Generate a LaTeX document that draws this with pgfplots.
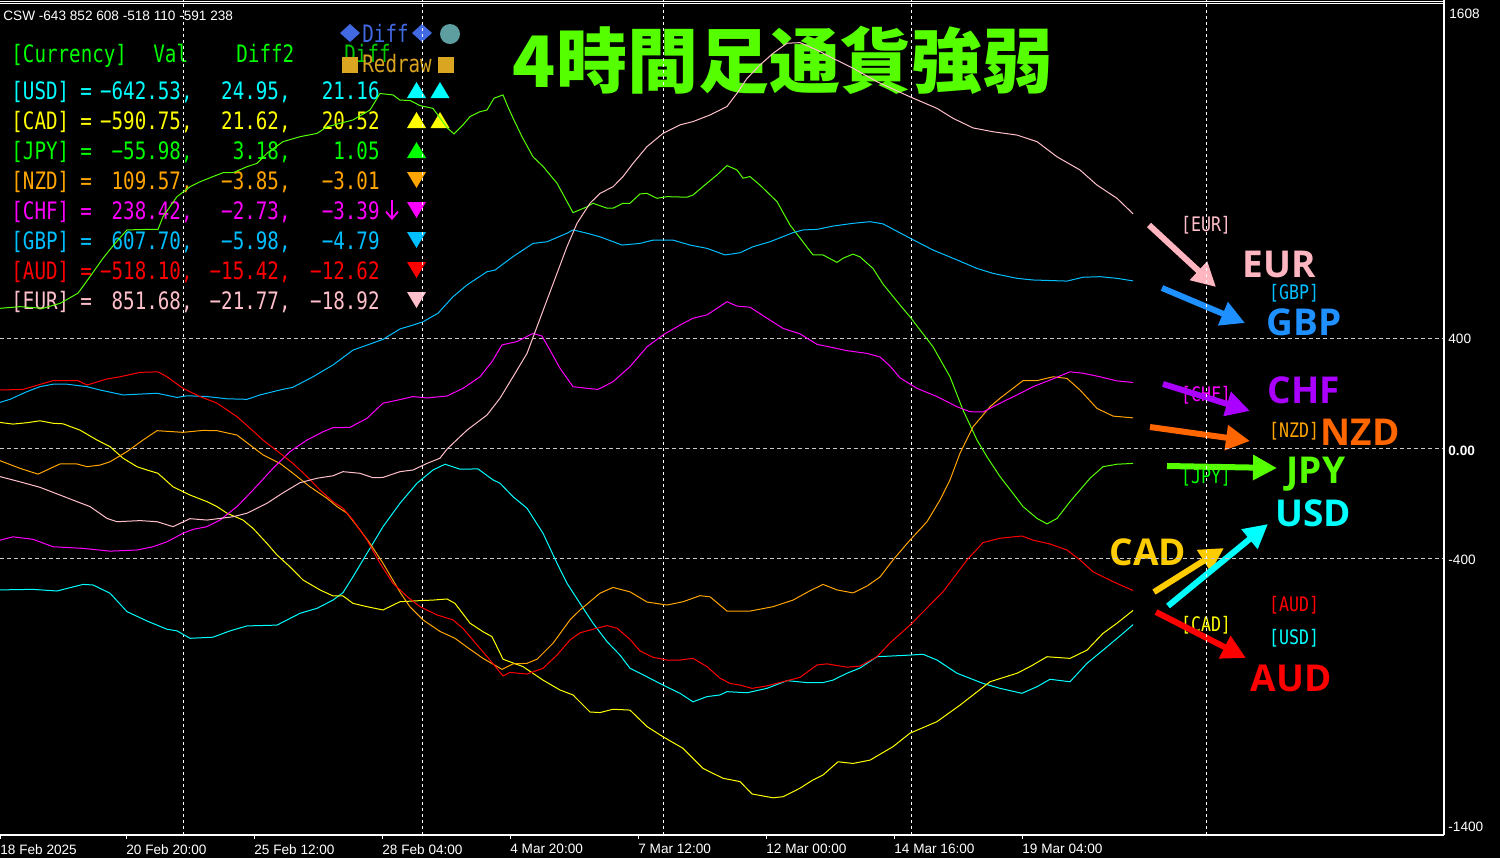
\documentclass[border=0pt]{standalone}
\usepackage{fontspec}
\usepackage{pgfplots}
\pgfplotsset{compat=1.18}
\usetikzlibrary{arrows.meta}
\setmainfont{Liberation Sans}
\newfontfamily\tah{Liberation Sans}
\newfontfamily\goth[FakeStretch=0.8]{DejaVu Sans Mono}
\newfontfamily\gothb[FakeStretch=0.83]{DejaVu Sans Mono}
\newfontfamily\bigf{Open Sans}
\newfontfamily\cjk{Noto Sans CJK JP}
\definecolor{cUSD}{RGB}{0,255,255}
\definecolor{cCAD}{RGB}{255,255,0}
\definecolor{cJPY}{RGB}{0,255,0}
\definecolor{cNZD}{RGB}{255,165,0}
\definecolor{cCHF}{RGB}{255,0,255}
\definecolor{cGBP}{RGB}{0,191,255}
\definecolor{cAUD}{RGB}{255,0,0}
\definecolor{cEUR}{RGB}{255,192,203}
\definecolor{bEUR}{RGB}{255,182,193}
\definecolor{bGBP}{RGB}{30,144,255}
\definecolor{bCHF}{RGB}{170,0,255}
\definecolor{bNZD}{RGB}{255,102,0}
\definecolor{bJPY}{RGB}{85,255,0}
\definecolor{bCAD}{RGB}{255,204,0}
\definecolor{royal}{RGB}{65,105,225}
\definecolor{cadet}{RGB}{95,158,160}
\definecolor{golden}{RGB}{218,165,32}
\definecolor{hgridc}{RGB}{200,200,200}
\newcommand{\tabfont}{\goth\fontsize{12}{13}\selectfont}
\newcommand{\row}[6]{%
  \node[anchor=base west,text=#1] at (11,#2) {#3};
  \node[anchor=base west,text=#1] at (80,#2) {=};
  \node[anchor=base east,text=#1] at (193,#2) {#4,};
  \node[anchor=base east,text=#1] at (291,#2) {#5,};
  \node[anchor=base east,text=#1] at (380,#2) {#6};}
\newcommand{\uptri}[3]{\fill[#1] (#2-9.5,#3+8)--(#2+9.5,#3+8)--(#2,#3-8)--cycle;}
\newcommand{\dntri}[3]{\fill[#1] (#2-9.5,#3-8)--(#2+9.5,#3-8)--(#2,#3+8)--cycle;}
\begin{document}
\begin{tikzpicture}
\path[use as bounding box, fill=black] (0pt,0pt) rectangle (750pt,-429pt);
\begin{scope}[x=0.5pt,y=-0.5pt]
  % top info
  \node[anchor=base west, inner sep=0pt, text=white, font=\tah\fontsize{6.8}{8}\selectfont] at (3,20) {CSW -643 852 608 -518 110 -591 238};
  % title
  \node[anchor=center, inner sep=0pt, text=bJPY, font=\cjk\bfseries\fontsize{35.5}{38}\selectfont] at (783,60) {4時間足通貨強弱};
  % table
  \begin{scope}[every node/.style={inner sep=0pt, font=\tabfont}]
    \node[anchor=base west,text=cJPY] at (11,62) {[Currency]};
    \node[anchor=base west,text=cJPY] at (153,62) {Val};
    \node[anchor=base west,text=cJPY] at (236,62) {Diff2};
    \node[anchor=base west,text=cJPY!80!black] at (344,62) {Diff};
    \fill[royal] (340,33)--(350,24)--(360,33)--(350,42)--cycle;
    \fill[royal] (412,33)--(422,24)--(432,33)--(422,42)--cycle;
    \node[anchor=base west,text=royal] at (362,42) {Diff};
    \fill[cadet] (450,34) circle (10);
    \fill[golden] (342,57) rectangle (358,73);
    \fill[golden] (438,57) rectangle (454,73);
    \node[anchor=base west,text=golden] at (362,72) {Redraw};
    \row{cUSD}{99}{[USD]}{−642.53}{24.95}{21.16}
    \row{cCAD}{129}{[CAD]}{−590.75}{21.62}{20.52}
    \row{cJPY}{159}{[JPY]}{−55.98}{3.18}{1.05}
    \row{cNZD}{189}{[NZD]}{109.57}{−3.85}{−3.01}
    \row{cCHF}{219}{[CHF]}{238.42}{−2.73}{−3.39}
    \row{cGBP}{249}{[GBP]}{607.70}{−5.98}{−4.79}
    \row{cAUD}{279}{[AUD]}{−518.10}{−15.42}{−12.62}
    \row{cEUR}{309}{[EUR]}{851.68}{−21.77}{−18.92}
  \end{scope}
  \draw[cCHF, line width=0.9pt, -{Straight Barb[length=3.5pt,width=6pt]}] (392,200) -- (392,220);
  \uptri{cUSD}{416.5}{90}\uptri{cUSD}{440}{90}
  \uptri{cCAD}{416.5}{120}\uptri{cCAD}{440}{120}
  \uptri{cJPY}{416.5}{150}
  \dntri{cNZD}{416.5}{180}
  \dntri{cCHF}{416.5}{210}
  \dntri{cGBP}{416.5}{240}
  \dntri{cAUD}{416.5}{270}
  \dntri{cEUR}{416.5}{300}
  % right side small labels
  \begin{scope}[every node/.style={inner sep=0pt, font=\gothb\fontsize{10}{11}\selectfont, anchor=center}]
    \node[text=cEUR] at (1206,225) {[EUR]};
    \node[text=cGBP] at (1294,293) {[GBP]};
    \node[text=cCHF] at (1206,395) {[CHF]};
    \node[text=cNZD] at (1294,431) {[NZD]};
    \node[text=cJPY] at (1206,477) {[JPY]};
    \node[text=cAUD] at (1294,605) {[AUD]};
    \node[text=cCAD] at (1206,625) {[CAD]};
    \node[text=cUSD] at (1294,638) {[USD]};
  \end{scope}
  % arrows
  \begin{scope}[line width=3pt, -{Triangle[length=12pt,width=12pt]}]
    \draw[bEUR] (1149,225) -- (1216,287);
    \draw[bGBP] (1162,288) -- (1245,323);
    \draw[bCHF] (1163,384) -- (1250,411);
    \draw[bNZD] (1150,427) -- (1250,441);
    \draw[bJPY] (1167,466) -- (1277,468);
    \draw[bCAD] (1154,592) -- (1224,548);
    \draw[cUSD] (1168,606) -- (1268,524);
    \draw[cAUD] (1156,612) -- (1246,658);
  \end{scope}
  % big labels
  \begin{scope}[every node/.style={inner sep=0pt, anchor=base, font=\bigf\bfseries\fontsize{18.5}{20}\selectfont}]
    \node[text=bEUR] at (1279,277) {EUR};
    \node[text=bGBP] at (1304,335) {GBP};
    \node[text=bCHF] at (1304,403) {CHF};
    \node[text=bNZD] at (1360,445) {NZD};
    \node[text=bJPY] at (1316,483) {JPY};
    \node[text=cUSD] at (1313,526) {USD};
    \node[text=bCAD] at (1148,565) {CAD};
    \node[text=cAUD] at (1291,691) {AUD};
  \end{scope}
\end{scope}

\begin{axis}[
  at={(0pt,0pt)}, anchor=north west,
  scale only axis, width=722pt, height=417.5pt,
  xmin=0, xmax=1444, ymin=-1407.3, ymax=1629.1,
  axis line style={draw=none},
  ytick=\empty,
  xtick={0,126,254,382,510,638,766,894,1022},
  xticklabels={18 Feb 2025,20 Feb 20:00,25 Feb 12:00,28 Feb 04:00,4 Mar 20:00,7 Mar 12:00,12 Mar 00:00,14 Mar 16:00,19 Mar 04:00},
  xtick pos=bottom, tick align=outside, major tick length=2pt,
  xtick style={white, line width=0.5pt},
  xticklabel style={font=\tah\fontsize{6.8}{8}\selectfont, text=white, anchor=north west, inner sep=0pt, yshift=-2.5pt},
  every axis plot/.append style={line width=0.5pt, mark=none},
]
% grid
\draw[hgridc, line width=0.5pt, dash pattern=on 2pt off 1.5pt] (0,400) -- (1444,400);
\draw[hgridc, line width=0.5pt, dash pattern=on 2pt off 1.5pt] (0,0) -- (1444,0);
\draw[hgridc, line width=0.5pt, dash pattern=on 2pt off 1.5pt] (0,-400) -- (1444,-400);
\foreach \gx in {183,422,663,911,1206}{
  \edef\tmp{\noexpand\draw[white, line width=0.5pt, dash pattern=on 1.5pt off 1.5pt] (\gx,-1407.3) -- (\gx,1629.1);}\tmp
}
% USD
\addplot[cUSD] coordinates {(0,-516)(33,-514)(57,-520)(83,-496)(93,-498)(110,-528)(127,-595)(147,-629)(167,-659)(177,-665)(190,-692)(213,-688)(230,-665)(247,-647)(277,-644)(300,-601)(317,-583)(333,-553)(343,-526)(353,-468)(367,-383)(383,-286)(400,-201)(417,-128)(433,-80)(445,-59)(460,-77)(478,-76)(493,-116)(500,-128)(513,-177)(527,-219)(543,-310)(557,-419)(567,-492)(580,-565)(593,-637)(607,-704)(620,-753)(630,-801)(647,-832)(663,-862)(680,-892)(693,-923)(707,-904)(720,-898)(727,-886)(747,-890)(767,-874)(787,-846)(807,-853)(823,-853)(833,-844)(847,-819)(860,-800)(877,-759)(910,-753)(923,-750)(937,-771)(957,-819)(983,-856)(1000,-874)(1022,-892)(1037,-868)(1050,-841)(1070,-850)(1087,-783)(1107,-723)(1123,-674)(1133,-642.53)};
% CAD
\addplot[cCAD] coordinates {(0,93)(13,87)(27,92)(40,99)(53,90)(63,88)(80,65)(97,29)(110,5)(123,-37)(137,-68)(147,-80)(158,-92)(173,-141)(190,-171)(207,-195)(217,-213)(227,-237)(243,-262)(253,-292)(267,-347)(277,-389)(290,-432)(303,-480)(320,-516)(333,-538)(343,-538)(353,-565)(367,-577)(383,-589)(400,-559)(420,-555)(433,-553)(447,-549)(455,-565)(470,-637)(483,-668)(492,-686)(503,-768)(523,-795)(543,-844)(560,-880)(573,-898)(590,-960)(600,-962)(613,-950)(630,-953)(647,-1013)(663,-1050)(683,-1092)(703,-1165)(723,-1201)(740,-1213)(752,-1258)(773,-1272)(783,-1268)(800,-1237)(813,-1207)(823,-1189)(838,-1141)(853,-1147)(870,-1135)(893,-1086)(910,-1037)(937,-995)(960,-935)(990,-850)(1017,-819)(1030,-795)(1047,-759)(1070,-765)(1087,-735)(1103,-674)(1117,-637)(1133,-590.75)};
% JPY
\addplot[bJPY] coordinates {(0,508)(20,514)(43,508)(60,526)(78,563)(90,623)(103,690)(115,744)(127,793)(147,795)(158,795)(163,841)(177,914)(190,950)(200,968)(213,987)(223,1001)(233,1001)(247,1023)(257,1035)(267,1072)(283,1114)(300,1132)(317,1144)(327,1168)(353,1193)(370,1229)(380,1289)(393,1284)(400,1265)(410,1264)(420,1245)(433,1235)(447,1165)(454,1142)(463,1175)(470,1205)(480,1223)(487,1229)(494,1272)(503,1284)(508,1240)(513,1200)(522,1132)(533,1059)(543,1024)(557,963)(573,856)(587,877)(593,890)(607,872)(613,872)(623,890)(630,890)(640,924)(647,926)(657,908)(667,914)(687,912)(693,920)(707,963)(717,993)(727,1027)(737,1011)(743,981)(750,987)(760,956)(777,896)(790,811)(813,702)(823,702)(837,675)(843,690)(853,705)(860,695)(873,653)(883,596)(900,520)(910,477)(933,368)(950,259)(963,138)(977,29)(987,-32)(1000,-104)(1013,-165)(1023,-213)(1037,-256)(1047,-276)(1057,-256)(1070,-195)(1090,-110)(1103,-68)(1117,-59)(1133,-55.98)};
% NZD
\addplot[cNZD] coordinates {(0,-46)(20,-74)(38,-95)(60,-58)(77,-58)(87,-68)(100,-62)(110,-50)(127,-13)(143,29)(157,63)(183,57)(203,64)(217,63)(237,47)(250,11)(263,-25)(280,-56)(293,-92)(310,-141)(327,-183)(337,-213)(347,-237)(360,-298)(370,-347)(383,-419)(400,-524)(410,-578)(423,-625)(440,-667)(455,-692)(467,-724)(483,-765)(502,-805)(513,-785)(527,-783)(537,-768)(553,-710)(570,-625)(580,-589)(600,-528)(613,-507)(630,-523)(647,-560)(667,-571)(683,-559)(700,-537)(710,-541)(727,-593)(750,-593)(773,-577)(793,-553)(810,-519)(823,-496)(837,-516)(853,-527)(867,-502)(880,-469)(893,-407)(910,-335)(927,-268)(940,-189)(950,-116)(960,-19)(973,77)(983,120)(990,150)(1000,181)(1023,245)(1037,245)(1053,259)(1067,253)(1080,211)(1097,144)(1113,116)(1133,109.57)};
% CHF
\addplot[cCHF] coordinates {(0,-335)(13,-323)(33,-332)(53,-359)(83,-365)(110,-375)(137,-371)(153,-359)(167,-341)(183,-310)(193,-296)(207,-286)(220,-262)(237,-213)(253,-153)(273,-74)(290,-13)(307,29)(323,59)(333,74)(350,75)(367,108)(383,163)(400,176)(413,187)(427,182)(447,189)(463,217)(480,259)(492,314)(502,375)(517,387)(533,417)(542,407)(550,356)(560,290)(573,223)(587,217)(598,213)(613,241)(630,296)(647,368)(663,411)(680,447)(693,472)(707,484)(727,532)(737,516)(750,512)(767,472)(783,435)(800,415)(817,377)(833,365)(847,354)(867,344)(880,331)(890,298)(900,255)(917,217)(937,187)(957,150)(970,132)(983,131)(1000,163)(1017,193)(1033,223)(1050,247)(1070,277)(1083,272)(1100,259)(1117,244)(1133,238.42)};
% GBP
\addplot[cGBP] coordinates {(0,166)(10,177)(27,205)(40,223)(53,232)(67,232)(87,223)(100,211)(123,193)(157,199)(177,184)(187,190)(207,187)(227,179)(247,177)(260,193)(280,211)(293,221)(313,259)(333,302)(353,356)(383,395)(400,433)(413,447)(423,459)(438,490)(453,550)(467,593)(487,641)(495,647)(513,696)(533,744)(547,750)(567,781)(573,793)(587,781)(600,768)(622,738)(640,744)(653,756)(673,756)(690,738)(707,726)(725,702)(740,710)(753,732)(770,750)(793,783)(803,793)(817,795)(833,807)(853,817)(870,823)(883,815)(910,763)(933,720)(957,684)(977,653)(993,635)(1017,617)(1033,611)(1067,607)(1083,621)(1100,623)(1117,617)(1133,607.70)};
% AUD
\addplot[cAUD] coordinates {(0,211)(23,213)(53,245)(78,245)(87,229)(107,251)(120,259)(140,275)(158,277)(167,259)(183,217)(200,187)(217,163)(237,114)(250,72)(263,29)(280,-19)(293,-56)(307,-104)(320,-153)(333,-195)(343,-219)(353,-262)(367,-335)(380,-419)(393,-492)(407,-540)(420,-577)(437,-607)(453,-625)(463,-656)(477,-716)(490,-771)(503,-829)(510,-816)(527,-822)(543,-801)(557,-753)(570,-698)(580,-672)(593,-659)(607,-646)(617,-655)(630,-696)(640,-738)(653,-761)(667,-771)(680,-771)(693,-765)(707,-795)(720,-837)(730,-856)(740,-862)(752,-874)(767,-865)(783,-850)(800,-834)(817,-789)(827,-785)(847,-797)(860,-793)(877,-759)(890,-709)(910,-644)(943,-523)(967,-407)(983,-344)(1000,-328)(1022,-320)(1033,-335)(1050,-349)(1067,-371)(1080,-407)(1093,-450)(1113,-486)(1133,-518.10)};
% EUR
\addplot[cEUR] coordinates {(0,-104)(20,-123)(40,-143)(60,-171)(77,-195)(90,-213)(107,-256)(117,-268)(140,-264)(157,-268)(173,-286)(190,-257)(207,-262)(233,-250)(247,-237)(267,-201)(283,-163)(300,-126)(317,-110)(333,-101)(343,-86)(360,-92)(373,-108)(383,-107)(400,-86)(413,-80)(427,-56)(440,-37)(447,-4)(467,65)(487,120)(500,181)(513,259)(527,344)(537,441)(547,538)(557,635)(567,732)(577,817)(590,890)(600,926)(613,950)(623,987)(633,1035)(647,1096)(663,1144)(680,1175)(693,1187)(710,1211)(727,1242)(737,1290)(747,1344)(760,1393)(773,1435)(787,1472)(800,1474)(817,1447)(833,1417)(853,1381)(877,1332)(910,1277)(937,1235)(953,1199)(973,1164)(993,1150)(1017,1138)(1037,1114)(1057,1059)(1080,1011)(1097,956)(1117,908)(1133,851.68)};
\end{axis}

\begin{scope}[x=0.5pt,y=-0.5pt]
  \draw[white, line width=0.5pt] (0,1) -- (1444,1);
  \draw[white, line width=0.5pt] (0,3) -- (1444,3);
  \draw[white, line width=0.6pt] (1444,0) -- (1444,835);
  \draw[white, line width=0.6pt] (0,835) -- (1444,835);
  \begin{scope}[every node/.style={inner sep=0pt, anchor=base west, text=white, font=\tah\fontsize{6.8}{8}\selectfont}]
    \node at (1449,18) {1608};
    \node at (1448,343) {400};
    \node at (1448,455) {\bfseries 0.00};
    \node at (1448,564) {-400};
    \node at (1448,831) {-1400};
  \end{scope}
\end{scope}
\end{tikzpicture}
\end{document}
